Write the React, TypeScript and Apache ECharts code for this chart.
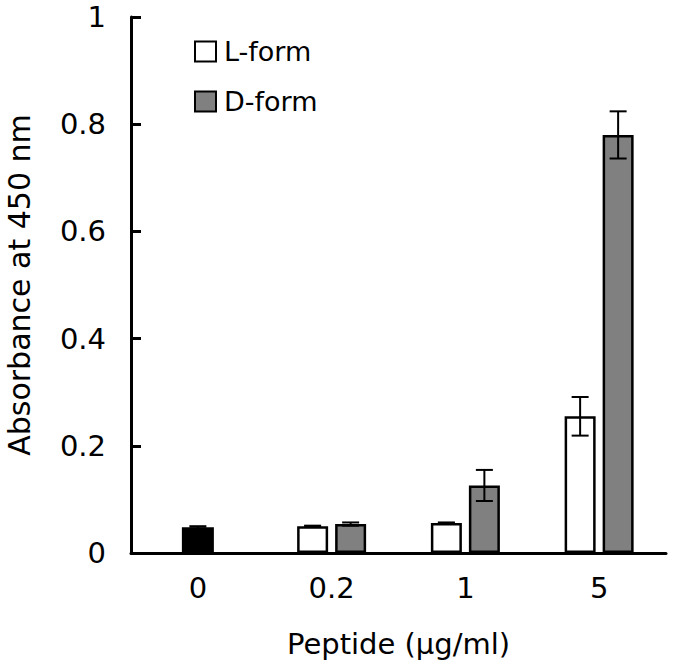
import React, { useEffect, useRef } from "react";
import * as echarts from "echarts";

const categories = ["0", "0.2", "1", "5"];
const lForm = [null, 0.05, 0.056, 0.255];
const lErr = [0, 0.001, 0.001, 0.036];
const dForm = [null, 0.054, 0.126, 0.78];
const dErr = [0, 0.003, 0.029, 0.044];
const control = [0.048, null, null, null];
const controlErr = [0.002, 0, 0, 0];

const FONT = "'DejaVu Sans', sans-serif";

export default function App() {
  const ref = useRef<HTMLDivElement>(null);
  useEffect(() => {
    if (!ref.current) return;
    const chart = echarts.init(ref.current, null, { renderer: "svg" });
    const barWidth = 31;
    const barGapPx = 7;
    const off = (barWidth + barGapPx) / 2;
    const errData: any[] = [];
    categories.forEach((_, i) => {
      if (lForm[i] != null) errData.push([i, lForm[i], lErr[i], -off]);
      if (dForm[i] != null) errData.push([i, dForm[i], dErr[i], off]);
      if (control[i] != null) errData.push([i, control[i], controlErr[i], 0]);
    });
    chart.setOption({
      animation: false,
      textStyle: { fontFamily: FONT },
      grid: { left: 131, right: 9, top: 17, bottom: 116, containLabel: false, outerBoundsMode: "none" },
      legend: {
        orient: "vertical",
        left: 189,
        top: 33,
        itemWidth: 21,
        itemHeight: 20,
        itemGap: 23,
        icon: "rect",
        data: ["L-form", "D-form"],
        textStyle: { fontSize: 27, color: "#000", fontFamily: FONT, padding: [0, 0, 0, 3] },
      },
      xAxis: [
        {
          type: "category",
          data: categories,
          axisLine: { lineStyle: { color: "#000", width: 3 } },
          axisTick: { inside: true, length: 9, lineStyle: { color: "#000", width: 3 } },
          axisLabel: { fontSize: 29, color: "#000", margin: 20, fontFamily: FONT },
          name: "Peptide (\u03bcg/ml)",
          nameLocation: "middle",
          nameGap: 76,
          nameTextStyle: { fontSize: 29, color: "#000", fontFamily: FONT },
        },
        {
          type: "category",
          data: categories,
          show: false,
          position: "bottom",
        },
      ],
      yAxis: {
        type: "value",
        min: 0,
        max: 1,
        interval: 0.2,
        splitLine: { show: false },
        axisLine: { show: true, lineStyle: { color: "#000", width: 3 } },
        axisTick: { show: true, inside: true, length: 10, lineStyle: { color: "#000", width: 3 } },
        axisLabel: { fontSize: 29, color: "#000", margin: 25, fontFamily: FONT },
        name: "Absorbance at 450 nm",
        nameLocation: "middle",
        nameGap: 97,
        nameTextStyle: { fontSize: 30, color: "#000", fontFamily: FONT },
      },
      series: [
        {
          name: "L-form",
          type: "bar",
          data: lForm,
          barWidth,
          barGap: (barGapPx / barWidth) * 100 + "%",
          itemStyle: { color: "#fff", borderColor: "#000", borderWidth: 2.5 },
        },
        {
          name: "D-form",
          type: "bar",
          data: dForm,
          barWidth,
          itemStyle: { color: "#808080", borderColor: "#000", borderWidth: 2.5 },
        },
        {
          name: "Control",
          type: "bar",
          xAxisIndex: 1,
          data: control,
          barWidth: 32,
          itemStyle: { color: "#000", borderColor: "#000", borderWidth: 2.5 },
        },
        {
          name: "err",
          type: "custom",
          z: 10,
          data: errData,
          renderItem: (params: any, api: any) => {
            const x = api.value(0);
            const v = api.value(1);
            const e = api.value(2);
            const o = api.value(3);
            const hi = api.coord([x, v + e]);
            const lo = api.coord([x, v - e]);
            const cx = hi[0] + o;
            const cw = 8.5;
            const style = { stroke: "#000", lineWidth: 2 };
            return {
              type: "group",
              children: [
                { type: "line", shape: { x1: cx, y1: hi[1], x2: cx, y2: lo[1] }, style },
                { type: "line", shape: { x1: cx - cw, y1: hi[1], x2: cx + cw, y2: hi[1] }, style },
                { type: "line", shape: { x1: cx - cw, y1: lo[1], x2: cx + cw, y2: lo[1] }, style },
              ],
            };
          },
        },
      ],
    });
    return () => chart.dispose();
  }, []);
  return <div ref={ref} style={{ width: 675, height: 669, position: "absolute", left: 0, top: 0 }} />;
}
